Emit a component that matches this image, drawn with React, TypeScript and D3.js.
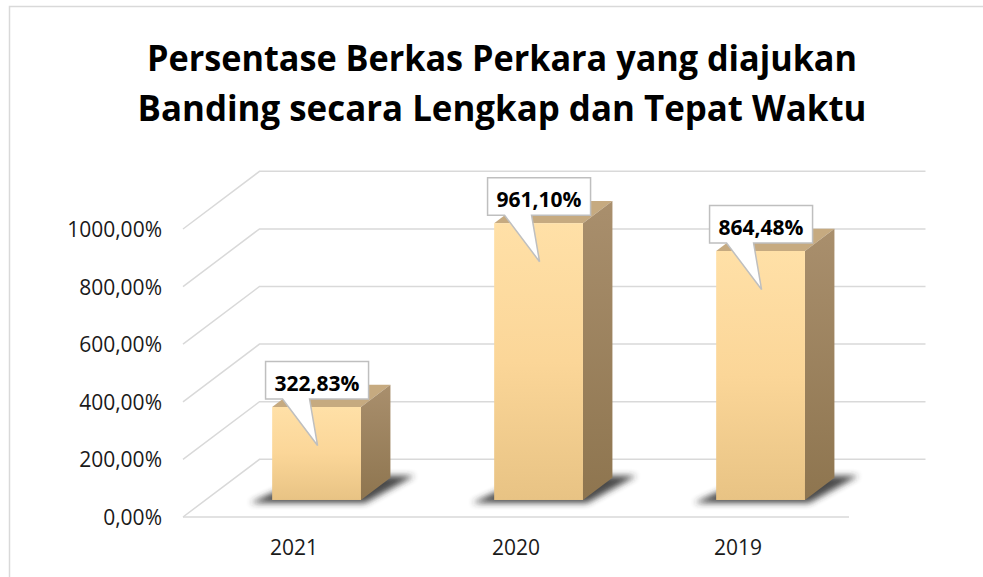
import React from "react";
import * as d3 from "d3";

const categories = ["2021", "2020", "2019"];
const values = [322.83, 961.1, 864.48];
const yTicks = [0, 200, 400, 600, 800, 1000];
const titleLines = [
  "Persentase Berkas Perkara yang diajukan",
  "Banding secara Lengkap dan Tepat Waktu",
];

const fmt = (v: number) => v.toFixed(2).replace(".", ",") + "%";

const W = 983;
const H = 577;
const DX = 76.5;
const DY = 57.7;
const Z0 = 0.295;
const Z1 = 0.68;

export default function App() {
  const x = d3
    .scaleBand<string>()
    .domain(categories)
    .range([183, 849])
    .paddingInner(0.6)
    .paddingOuter(0.3);
  const y = d3.scaleLinear().domain([0, 1000]).range([517, 229]);
  const proj = (px: number, v: number, z: number): [number, number] => [
    px + z * DX,
    y(v) - z * DY,
  ];
  const pts = (arr: [number, number][]) => arr.map((p) => p.join(",")).join(" ");
  const font = "'Open Sans', 'DejaVu Sans', sans-serif";
  const grid = "#d9d9d9";

  return (
    <svg
      width={W}
      height={H}
      style={{ position: "absolute", left: 0, top: 0, background: "#fff" }}
    >
      <defs>
        <linearGradient id="front" x1="0" y1="0" x2="0" y2="1">
          <stop offset="0" stopColor="#FFE0A7" />
          <stop offset="0.5" stopColor="#FBD698" />
          <stop offset="1" stopColor="#E8C384" />
        </linearGradient>
        <linearGradient id="side" x1="0" y1="0" x2="0" y2="1">
          <stop offset="0" stopColor="#A98F6D" />
          <stop offset="1" stopColor="#8E754F" />
        </linearGradient>
        <filter id="blur" x="-30%" y="-100%" width="160%" height="300%">
          <feGaussianBlur stdDeviation="3" />
        </filter>
      </defs>

      {/* outer border */}
      <rect x={9.5} y={6.5} width={990} height={600} fill="none" stroke="#d9d9d9" strokeWidth={1.5} />

      {/* title */}
      {titleLines.map((t, i) => (
        <text
          key={i}
          x={502}
          y={71 + i * 50}
          textAnchor="middle"
          fontFamily={font}
          fontWeight={700}
          fontSize={35}
          fill="#000"
          textLength={i === 0 ? 710 : 729}
          lengthAdjust="spacingAndGlyphs"
        >
          {t}
        </text>
      ))}

      {/* gridlines: side wall diagonals and back wall */}
      {yTicks.map((t) => {
        const a = proj(183, t, 0);
        const b = proj(183, t, 1);
        const c = proj(849, t, 1);
        return (
          <polyline
            key={t}
            points={pts([a, b, c])}
            fill="none"
            stroke={grid}
            strokeWidth={1.5}
          />
        );
      })}
      {/* floor front edge */}
      <line x1={183} y1={y(0)} x2={849} y2={y(0)} stroke={grid} strokeWidth={1.5} />

      {/* y labels */}
      {yTicks.map((t) => (
        <text
          key={"l" + t}
          x={162}
          y={y(t) + 8}
          textAnchor="end"
          fontFamily={font}
          fontSize={21}
          fill="#1a1a1a"
        >
          {fmt(t)}
        </text>
      ))}

      {/* category labels */}
      {categories.map((c) => (
        <text
          key={"c" + c}
          x={(x(c) as number) + x.bandwidth() / 2}
          y={555}
          textAnchor="middle"
          fontFamily={font}
          fontSize={21}
          fill="#1a1a1a"
        >
          {c}
        </text>
      ))}

      {/* bars */}
      {categories.map((c, i) => {
        const v = values[i];
        const x0 = x(c) as number;
        const x1 = x0 + x.bandwidth();
        const fbl = proj(x0, 0, Z0);
        const fbr = proj(x1, 0, Z0);
        const ftl = proj(x0, v, Z0);
        const ftr = proj(x1, v, Z0);
        const btl = proj(x0, v, Z1);
        const btr = proj(x1, v, Z1);
        const bbr = proj(x1, 0, Z1);
        const shadow: [number, number][] = [
          [fbl[0] - 22, fbl[1] + 3],
          [fbr[0] + 4, fbr[1] + 3],
          [bbr[0] + 24, bbr[1] - 2],
          [proj(x0, 0, Z1)[0] + 8, bbr[1] - 2],
        ];
        return (
          <g key={"b" + c}>
            <polygon points={pts(shadow)} fill="#2a2a2a" opacity={0.85} filter="url(#blur)" />
            <polygon points={pts([ftl, ftr, btr, btl])} fill="#C6AA80" />
            <polygon points={pts([ftr, btr, bbr, fbr])} fill="url(#side)" />
            <rect
              x={ftl[0]}
              y={ftl[1]}
              width={ftr[0] - ftl[0]}
              height={fbl[1] - ftl[1]}
              fill="url(#front)"
            />
          </g>
        );
      })}

      {/* callouts */}
      {categories.map((c, i) => {
        const v = values[i];
        const x0 = x(c) as number;
        const fc = proj(x0 + x.bandwidth() / 2, v, Z0);
        const tipX = fc[0] + 1;
        const tipY = fc[1] + 38.5;
        const bw = 103;
        const bh = 37.5;
        const bb = fc[1] - 8;
        const bt = bb - bh;
        const bl = tipX - 52;
        const br = bl + bw;
        const path = [
          [bl, bt],
          [br, bt],
          [br, bb],
          [bl + 44, bb],
          [tipX, tipY],
          [bl + 17, bb],
          [bl, bb],
        ] as [number, number][];
        return (
          <g key={"co" + c}>
            <polygon points={pts(path)} fill="#fff" stroke="#bfbfbf" strokeWidth={1.5} />
            <text
              x={bl + bw / 2}
              y={bb - 8}
              textAnchor="middle"
              fontFamily={font}
              fontWeight={700}
              fontSize={21}
              fill="#000"
            >
              {fmt(v)}
            </text>
          </g>
        );
      })}
    </svg>
  );
}
